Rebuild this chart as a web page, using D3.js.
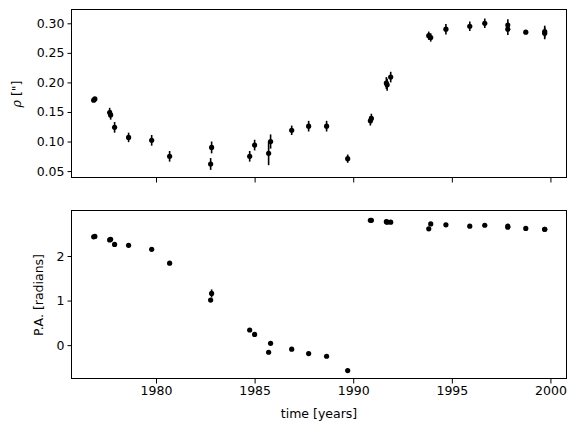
<!DOCTYPE html>
<html>
<head>
<meta charset="utf-8">
<script src="https://cdn.jsdelivr.net/npm/d3@7"></script>
<style>
  body { margin: 0; background: #fff; }
  text { font-family: "DejaVu Sans", sans-serif; fill: #000; }
</style>
</head>
<body>
<script>
// observation epochs (shared by both panels)
const time = [1976.84, 1976.90, 1977.65, 1977.70, 1977.90, 1978.61, 1979.78, 1980.69,
  1982.77, 1982.82, 1984.75, 1985.00, 1985.71, 1985.81, 1986.88, 1987.74, 1988.65,
  1989.72, 1990.87, 1990.92, 1991.68, 1991.72, 1991.90, 1993.83, 1993.93, 1994.70,
  1995.91, 1996.67, 1997.84, 1997.84, 1998.75, 1999.71, 1999.71];
// separation rho ["]
const rho = [0.170, 0.172, 0.149, 0.145, 0.124, 0.107, 0.102, 0.075,
  0.062, 0.090, 0.075, 0.094, 0.080, 0.100, 0.119, 0.126, 0.126,
  0.071, 0.135, 0.139, 0.199, 0.196, 0.209, 0.279, 0.276, 0.290,
  0.295, 0.300, 0.297, 0.290, 0.285, 0.286, 0.283];
const rhoErr = [0.003, 0.003, 0.008, 0.008, 0.009, 0.008, 0.009, 0.009,
  0.010, 0.010, 0.009, 0.009, 0.020, 0.012, 0.008, 0.009, 0.009,
  0.007, 0.008, 0.008, 0.010, 0.010, 0.009, 0.007, 0.007, 0.009,
  0.008, 0.008, 0.010, 0.010, 0.002, 0.010, 0.010];
// position angle [radians]
const pa = [2.43, 2.44, 2.36, 2.375, 2.26, 2.24, 2.15, 1.84,
  1.01, 1.16, 0.34, 0.24, -0.16, 0.04, -0.09, -0.19, -0.25,
  -0.57, 2.80, 2.80, 2.77, 2.76, 2.76, 2.61, 2.72, 2.70,
  2.67, 2.69, 2.67, 2.645, 2.62, 2.60, 2.60];
const paErr = [0.02, 0.02, 0.02, 0.02, 0.02, 0.02, 0.02, 0.02,
  0.02, 0.09, 0.02, 0.02, 0.02, 0.02, 0.02, 0.02, 0.02,
  0.02, 0.02, 0.02, 0.02, 0.02, 0.02, 0.02, 0.02, 0.02,
  0.02, 0.02, 0.02, 0.02, 0.02, 0.02, 0.02];

const xTicks = [1980, 1985, 1990, 1995, 2000];
const rhoTicks = [0.05, 0.10, 0.15, 0.20, 0.25, 0.30];
const paTicks = [0, 1, 2];

const W = 577, H = 433;
const svg = d3.select('body').append('svg').attr('width', W).attr('height', H);

const x = d3.scaleLinear().domain([1975.74, 2000.84]).range([72, 567]);

function panel(top, bottom, yDomain, vals, errs, ticks, fmt, label, labelX, showX) {
  const y = d3.scaleLinear().domain(yDomain).range([bottom, top]);
  const g = svg.append('g');

  // error bars
  g.selectAll('line.err')
    .data(time)
    .enter()
    .append('line')
    .attr('x1', (d) => x(d))
    .attr('x2', (d) => x(d))
    .attr('y1', (d, i) => y(vals[i] - errs[i]))
    .attr('y2', (d, i) => y(vals[i] + errs[i]))
    .attr('stroke', '#000')
    .attr('stroke-width', 1.6);

  g.selectAll('circle')
    .data(time)
    .enter()
    .append('circle')
    .attr('cx', (d) => x(d))
    .attr('cy', (d, i) => y(vals[i]))
    .attr('r', 2.6)
    .attr('fill', '#000');

  const xAxis = d3.axisBottom(x).tickValues(xTicks).tickSize(4.5).tickPadding(3)
    .tickFormat(showX ? d3.format('d') : () => '');
  const gx = g.append('g').attr('transform', `translate(0,${bottom})`).call(xAxis);
  const yAxis = d3.axisLeft(y).tickValues(ticks).tickSize(4.5).tickPadding(3).tickFormat(fmt);
  const gy = g.append('g').attr('transform', 'translate(72,0)').call(yAxis);
  [gx, gy].forEach((a) => {
    a.select('.domain').remove();
    a.selectAll('text').attr('font-size', 12.5).attr('font-family', 'DejaVu Sans');
  });

  g.append('rect')
    .attr('x', 71.5).attr('y', top - 0.5)
    .attr('width', 495).attr('height', bottom - top)
    .attr('fill', 'none').attr('stroke', '#000').attr('stroke-width', 1);

  const lab = g.append('text')
    .attr('transform', `translate(${labelX},${(top + bottom) / 2}) rotate(-90)`)
    .attr('text-anchor', 'middle')
    .attr('font-size', 12.5);
  label(lab);
}

panel(10, 178, [0.0383, 0.3225], rho, rhoErr, rhoTicks, d3.format('.2f'),
  (t) => {
    t.append('tspan').attr('font-style', 'italic').attr('font-family', 'DejaVu Serif').text('ρ');
    t.append('tspan').text(' ["]');
  }, 21, false);

panel(211, 379, [-0.76, 3.01], pa, paErr, paTicks, d3.format('d'),
  (t) => t.text('P.A. [radians]'), 43, true);

svg.append('text')
  .attr('x', 319).attr('y', 418)
  .attr('text-anchor', 'middle')
  .attr('font-size', 12.5)
  .text('time [years]');
</script>
</body>
</html>
